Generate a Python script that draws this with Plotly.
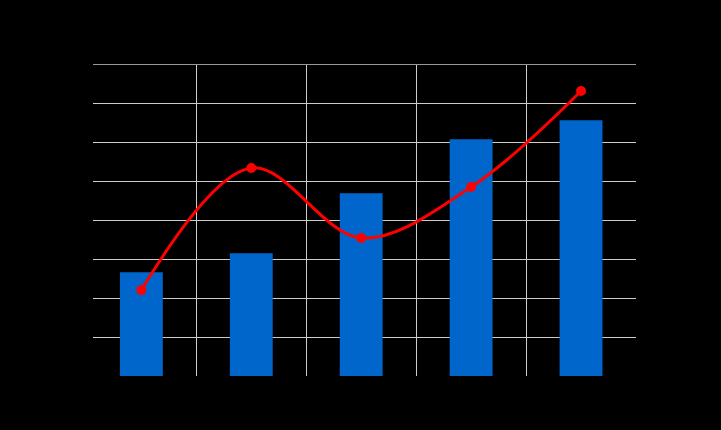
import plotly.graph_objects as go

categories = ["1", "2", "3", "4", "5"]
bar_values = [2.67, 3.16, 4.70, 6.09, 6.58]
line_values = [2.21, 5.35, 3.55, 4.86, 7.33]
y_ticks = [1, 2, 3, 4, 5, 6, 7, 8]

fig = go.Figure()
# invisible trace to activate the boundary gridlines axis
fig.add_trace(go.Scatter(x=[None], y=[None], xaxis="x2", yaxis="y", showlegend=False,
                         hoverinfo="skip"))
fig.add_trace(go.Bar(
    x=categories, y=bar_values, marker=dict(color="#0066cc", line=dict(width=0)),
    width=0.39, name="Bar",
))
fig.add_trace(go.Scatter(
    x=categories, y=line_values, mode="lines+markers", name="Line",
    line=dict(color="#ff0000", width=3, shape="spline", smoothing=1.0),
    marker=dict(color="#ff0000", size=10),
))

fig.update_layout(
    width=721, height=430,
    paper_bgcolor="#000000", plot_bgcolor="#000000",
    margin=dict(l=93, r=85, t=65, b=54),
    showlegend=False,
    font=dict(color="#000000", family="DejaVu Sans", size=12),
    xaxis=dict(type="category", range=[-0.44, 4.5], showgrid=False, zeroline=False,
               showline=False, ticks="", tickfont=dict(color="#000000")),
    xaxis2=dict(overlaying="x", side="top", range=[-0.44, 4.5], tickvals=[0.5, 1.5, 2.5, 3.5],
                showgrid=True, gridcolor="#cccccc", gridwidth=1, showticklabels=False,
                zeroline=False, showline=True, linecolor="#999999", linewidth=1, ticks=""),
    yaxis=dict(range=[0, 8], tickvals=y_ticks, showgrid=True, gridcolor="#cccccc",
               gridwidth=1, zeroline=False, showline=False, ticks="",
               tickfont=dict(color="#000000")),
)
fig.write_html("out.html", config={"displayModeBar": False},
               post_script="document.body.style.margin='0';document.body.style.background='#000';")
